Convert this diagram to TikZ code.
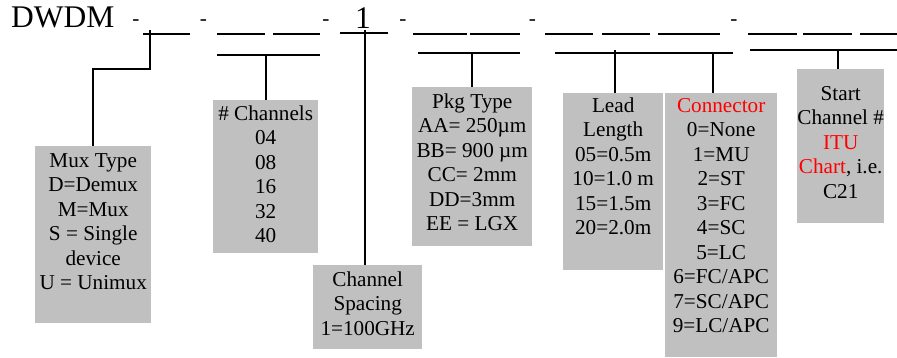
\documentclass[tikz,border=0pt]{standalone}
\usepackage{fontspec}
\setmainfont{Liberation Serif}
\definecolor{boxgray}{HTML}{C0C0C0}
\definecolor{hotred}{HTML}{FF0000}

\begin{document}
\begin{tikzpicture}
  [x=1pt, y=-1pt,
   card/.style={fill=boxgray, inner sep=0pt, anchor=north west,
     font=\fontsize{21.2}{24.5}\selectfont},
   wire/.style={line width=1.7pt},
   big/.style={inner sep=0pt, font=\fontsize{31.5}{36}\selectfont},
   hyph/.style={anchor=base, inner sep=0pt, font=\fontsize{21.2}{24.5}\selectfont},
  ]
  \useasboundingbox (0,0) rectangle (897,358);

  % part number line
  \node[big, anchor=base west] (dwdm) at (11,27.5) {DWDM};
  \foreach \x [count=\i] in {136,203.5,326,403,532.5,734}
    \node[hyph] (h\i) at (\x,26) {-};
  \node[big, anchor=base] (one) at (363,29) {1};
  \foreach \a/\b in {143/190,217/265,273/320,413/467,470/520,545/593,602/650,658/720,748/797,803/852,860/897}
    \draw[wire] (\a,34) -- (\b,34);
  \draw[line width=2.2pt] (340,33) -- (388,33);

  % fields
  \node[card] (mux) at (35,146)
    {\parbox[t][177pt][t]{116pt}{\centering\rule{0pt}{21pt}Mux Type\\D=Demux\\M=Mux\\S = Single\\device\\U = Unimux}};
  \node[card] (chan) at (213,100)
    {\parbox[t][153pt][t]{105pt}{\centering\rule{0pt}{20pt}\# Channels\\04\\08\\16\\32\\40}};
  \node[card] (space) at (313,265)
    {\parbox[t][84pt][t]{109pt}{\centering\rule{0pt}{21pt}Channel\\Spacing\\1=100GHz}};
  \node[card] (pkg) at (412,87)
    {\parbox[t][159pt][t]{120pt}{\centering\rule{0pt}{21pt}Pkg Type\\AA= 250µm\\BB= 900 µm\\CC= 2mm\\DD=3mm\\EE = LGX}};
  \node[card] (lead) at (563,93)
    {\parbox[t][177pt][t]{100pt}{\centering\rule{0pt}{19pt}Lead\\Length\\05=0.5m\\10=1.0 m\\15=1.5m\\20=2.0m}};
  \node[card] (conn) at (665,93)
    {\parbox[t][264pt][t]{112pt}{\centering\rule{0pt}{19pt}\textcolor{hotred}{Connector}\\0=None\\1=MU\\2=ST\\3=FC\\4=SC\\5=LC\\6=FC/APC\\7=SC/APC\\9=LC/APC}};
  \node[card] (start) at (797,69)
    {\parbox[t][154pt][t]{87pt}{\centering\rule{0pt}{31pt}Start\\Channel \#\\\textcolor{hotred}{ITU}\\\textcolor{hotred}{Chart}, i.e.\\C21}};

  % brackets
  \coordinate (muxT) at (150,30);
  \coordinate (chL) at (217,55);   \coordinate (chR) at (320,55);
  \coordinate (spT) at (365,30);
  \coordinate (pkL) at (418,53);   \coordinate (pkR) at (520,53);
  \coordinate (ldL) at (555,53);   \coordinate (ldR) at (733,53);
  \coordinate (ldT) at (615,50);   \coordinate (cnT) at (713,53);
  \coordinate (stL) at (750,50);   \coordinate (stR) at (897,50);
  \coordinate (stT) at (838,50);
  \draw[wire] (chL) -- (chR);
  \draw[wire] (pkL) -- (pkR);
  \draw[wire] (ldL) -- (ldR);
  \draw[wire] (stL) -- (stR);

  % leaders
  \draw[wire] (muxT) -- ++(0,39) -| (mux.north);
  \draw[wire] (chan.north |- chL) -- (chan.north);
  \draw[wire] (spT) -- (spT |- space.north);
  \draw[wire] (pkg.north |- pkL) -- (pkg.north);
  \draw[wire] (ldT) -- (ldT |- lead.north);
  \draw[wire] (cnT) -- (cnT |- conn.north);
  \draw[wire] (stT) -- (stT |- start.north);
\end{tikzpicture}
\end{document}
